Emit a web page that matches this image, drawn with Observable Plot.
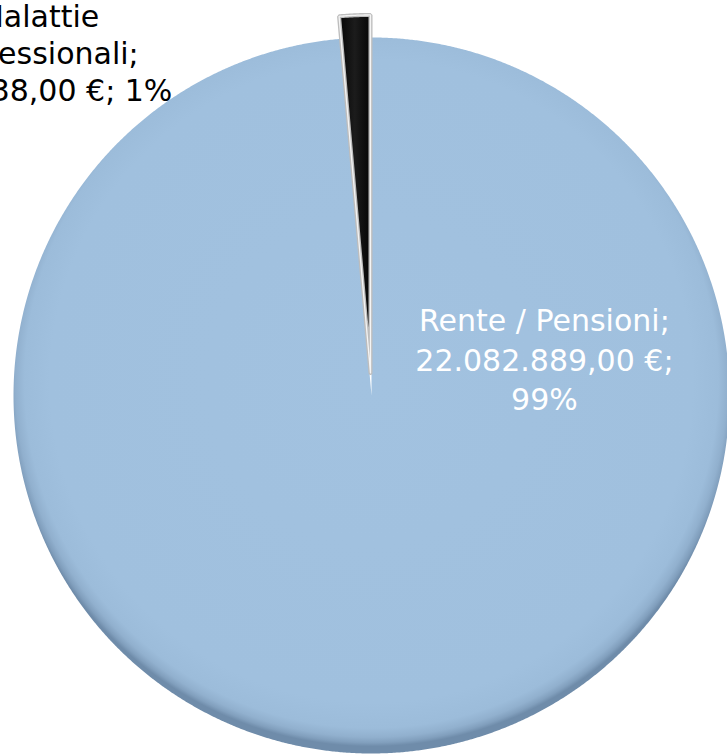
<!DOCTYPE html>
<html>
<head>
<meta charset="utf-8">
<script src="https://cdn.jsdelivr.net/npm/d3@7"></script>
<script src="https://cdn.jsdelivr.net/npm/@observablehq/plot@0.6"></script>
<style>
  html, body { margin: 0; padding: 0; background: #ffffff; }
  #chart { width: 727px; height: 756px; overflow: hidden; }
  #chart svg { display: block; }
</style>
</head>
<body>
<div id="chart"></div>
<script>
// ---- data ----
const categories = ["Rente / Pensioni", "Malattie professionali"];
const categoryLines = [["Rente / Pensioni;"], ["Malattie", "professionali;"]];
const values = [22082889, 313538];
const valueLabels = ["22.082.889,00 €", "313.538,00 €"];
const percentLabels = ["99%", "1%"];

// ---- pie geometry via d3.pie ----
const arcs = d3.pie().sort(null).startAngle(0).endAngle(2 * Math.PI)(values);
const explode = [0, 0.063];
const step = Math.PI / 720;
function slicePoints(a, i) {
  const mid = (a.startAngle + a.endAngle) / 2;
  const ox = Math.sin(mid) * explode[i], oy = Math.cos(mid) * explode[i];
  const pts = [{x: ox, y: oy, slice: i}];
  const n = Math.max(2, Math.ceil((a.endAngle - a.startAngle) / step));
  for (let k = 0; k <= n; k++) {
    const t = a.startAngle + (a.endAngle - a.startAngle) * k / n;
    pts.push({x: ox + Math.sin(t), y: oy + Math.cos(t), slice: i});
  }
  pts.push({x: ox, y: oy, slice: i});
  return pts;
}
const slices = arcs.map((a, i) => slicePoints(a, i));

const labelRente = [{text: [...categoryLines[0], `${valueLabels[0]};`, percentLabels[0]].join("\n"), x: 0.483, y: 0.105}];
const labelMal = [{text: [...categoryLines[1], `${valueLabels[1]}; ${percentLabels[1]}`].join("\n"), x: -0.93, y: 0.96}];

const svg = Plot.plot({
  width: 727,
  height: 756,
  margin: 0,
  x: {domain: [-1, 1], range: [13, 729], axis: null},
  y: {domain: [-1, 1], range: [753, 37], axis: null},
  style: {background: "#ffffff", overflow: "hidden"},
  marks: [
    Plot.line(slices[0], {x: "x", y: "y", fill: "url(#gBlue)", stroke: "none", curve: "linear"}),
    Plot.line(slices[1], {x: "x", y: "y", fill: "url(#gBlack)", stroke: "#bdbdbd", strokeWidth: 4, strokeLinejoin: "miter", curve: "linear"}),
    Plot.line(slices[1], {x: "x", y: "y", fill: "none", stroke: "#f4f4f4", strokeWidth: 1.3, strokeLinejoin: "miter", curve: "linear"}),
    Plot.text(labelRente, {
      x: "x", y: "y", text: "text", fill: "#ffffff",
      fontSize: 30, lineHeight: 1.32, textAnchor: "middle", lineAnchor: "middle",
      fontFamily: "DejaVu Sans, sans-serif"
    }),
    Plot.text(labelMal, {
      x: "x", y: "y", text: "text", fill: "#000000",
      fontSize: 30, lineHeight: 1.24, textAnchor: "middle", lineAnchor: "middle",
      fontFamily: "DejaVu Sans, sans-serif"
    })
  ]
});

const defs = d3.select(svg).insert("defs", ":first-child");
const gb = defs.append("radialGradient").attr("id", "gBlue")
  .attr("cx", "50%").attr("cy", "48%").attr("r", "51%");
[[0, "#a2c2e0"], [0.88, "#a0c0de"], [0.95, "#9cbcda"], [0.975, "#91b0ce"], [0.99, "#819fbd"], [1, "#6f8caa"]]
  .forEach(([o, c]) => gb.append("stop").attr("offset", o).attr("stop-color", c));
const gk = defs.append("linearGradient").attr("id", "gBlack")
  .attr("x1", "0%").attr("y1", "0%").attr("x2", "100%").attr("y2", "0%");
[[0, "#050505"], [0.5, "#1c1c1c"], [1, "#050505"]]
  .forEach(([o, c]) => gk.append("stop").attr("offset", o).attr("stop-color", c));

document.getElementById("chart").appendChild(svg);
</script>
</body>
</html>
